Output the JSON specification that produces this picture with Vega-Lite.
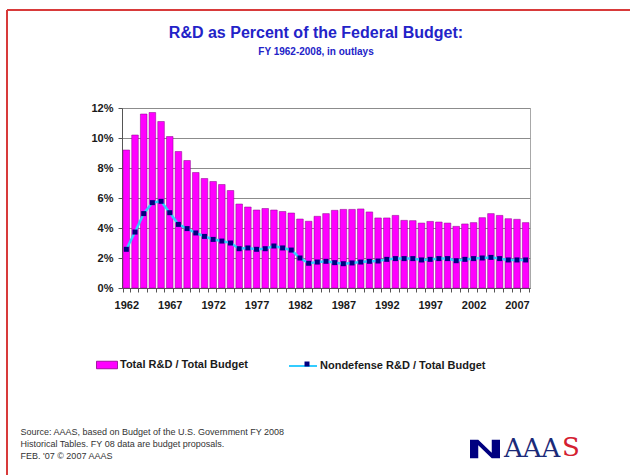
{
  "$schema": "https://vega.github.io/schema/vega-lite/v6.json",
  "width": 408,
  "height": 180,
  "autosize": {"type": "none"},
  "padding": {"left": 122, "top": 108, "right": 100, "bottom": 187},
  "background": "white",
  "title": {
    "text": "R&D as Percent of the Federal Budget:",
    "subtitle": "FY 1962-2008, in outlays",
    "anchor": "middle",
    "dx": -10,
    "offset": -48,
    "font": "Liberation Sans",
    "fontSize": 16,
    "fontWeight": "bold",
    "color": "#2323c8",
    "subtitleFont": "Liberation Sans",
    "subtitleFontSize": 10,
    "subtitleFontWeight": "bold",
    "subtitleColor": "#2323c8",
    "subtitlePadding": 6
  },
  "config": {
    "view": {"stroke": "#a8a8a8", "strokeWidth": 1},
    "axis": {"labelFont": "Liberation Sans", "labelFontSize": 11, "labelFontWeight": "bold", "labelColor": "#1a1a1a"},
    "axisY": {
      "title": null,
      "values": [0, 2, 4, 6, 8, 10, 12],
      "labelExpr": "datum.value + '%'",
      "labelOverlap": false,
      "tickSize": 4,
      "tickColor": "#555555",
      "domainColor": "#555555",
      "labelPadding": 5,
      "grid": true,
      "gridColor": "#8c8c8c",
      "gridWidth": 1
    }
  },
  "data": {
    "values": [
      {"year": 1962, "total": 9.2, "nondefense": 2.58},
      {"year": 1963, "total": 10.2, "nondefense": 3.73},
      {"year": 1964, "total": 11.6, "nondefense": 4.96},
      {"year": 1965, "total": 11.7, "nondefense": 5.69},
      {"year": 1966, "total": 11.1, "nondefense": 5.78},
      {"year": 1967, "total": 10.1, "nondefense": 5.02},
      {"year": 1968, "total": 9.1, "nondefense": 4.24},
      {"year": 1969, "total": 8.5, "nondefense": 3.96},
      {"year": 1970, "total": 7.7, "nondefense": 3.67},
      {"year": 1971, "total": 7.3, "nondefense": 3.44},
      {"year": 1972, "total": 7.1, "nondefense": 3.24},
      {"year": 1973, "total": 6.9, "nondefense": 3.13},
      {"year": 1974, "total": 6.5, "nondefense": 3.0},
      {"year": 1975, "total": 5.6, "nondefense": 2.62},
      {"year": 1976, "total": 5.4, "nondefense": 2.67},
      {"year": 1977, "total": 5.2, "nondefense": 2.58},
      {"year": 1978, "total": 5.3, "nondefense": 2.62},
      {"year": 1979, "total": 5.2, "nondefense": 2.8},
      {"year": 1980, "total": 5.1, "nondefense": 2.67},
      {"year": 1981, "total": 5.0, "nondefense": 2.53},
      {"year": 1982, "total": 4.6, "nondefense": 2.0},
      {"year": 1983, "total": 4.45, "nondefense": 1.65},
      {"year": 1984, "total": 4.78, "nondefense": 1.73},
      {"year": 1985, "total": 4.96, "nondefense": 1.78},
      {"year": 1986, "total": 5.18, "nondefense": 1.69},
      {"year": 1987, "total": 5.24, "nondefense": 1.62},
      {"year": 1988, "total": 5.24, "nondefense": 1.67},
      {"year": 1989, "total": 5.27, "nondefense": 1.73},
      {"year": 1990, "total": 5.07, "nondefense": 1.78},
      {"year": 1991, "total": 4.67, "nondefense": 1.8},
      {"year": 1992, "total": 4.67, "nondefense": 1.91},
      {"year": 1993, "total": 4.84, "nondefense": 1.96},
      {"year": 1994, "total": 4.51, "nondefense": 1.96},
      {"year": 1995, "total": 4.49, "nondefense": 1.96},
      {"year": 1996, "total": 4.33, "nondefense": 1.87},
      {"year": 1997, "total": 4.44, "nondefense": 1.91},
      {"year": 1998, "total": 4.4, "nondefense": 1.96},
      {"year": 1999, "total": 4.33, "nondefense": 1.96},
      {"year": 2000, "total": 4.11, "nondefense": 1.82},
      {"year": 2001, "total": 4.27, "nondefense": 1.91},
      {"year": 2002, "total": 4.36, "nondefense": 1.96},
      {"year": 2003, "total": 4.69, "nondefense": 2.0},
      {"year": 2004, "total": 4.96, "nondefense": 2.04},
      {"year": 2005, "total": 4.84, "nondefense": 1.96},
      {"year": 2006, "total": 4.62, "nondefense": 1.87},
      {"year": 2007, "total": 4.58, "nondefense": 1.87},
      {"year": 2008, "total": 4.36, "nondefense": 1.87}
    ]
  },
  "encoding": {
    "x": {
      "field": "year",
      "type": "ordinal",
      "scale": {"paddingInner": 0.24, "paddingOuter": 0.12},
      "axis": {
        "labelAngle": 0,
        "labelOverlap": false,
        "labelExpr": "(datum.value - 1962) % 5 == 0 ? datum.label : ''",
        "tickBand": "extent",
        "tickSize": 4,
        "tickColor": "#555555",
        "domainColor": "#555555",
        "labelPadding": 7,
        "grid": false,
        "title": [
          "Source: AAAS, based on Budget of the U.S. Government FY 2008",
          "Historical Tables. FY 08 data are budget proposals.",
          "FEB. '07 © 2007 AAAS"
        ],
        "titleFont": "Liberation Sans",
        "titleFontSize": 9,
        "titleFontWeight": "normal",
        "titleColor": "#333333",
        "titleAnchor": "start",
        "titleAlign": "left",
        "titleBaseline": "top",
        "titleLineHeight": 12,
        "titleX": -102,
        "titleY": 139
      }
    }
  },
  "layer": [
    {
      "mark": {"type": "bar", "stroke": "#8b008b", "strokeWidth": 0.5},
      "encoding": {
        "y": {"field": "total", "type": "quantitative", "scale": {"domain": [0, 12]}},
        "fill": {
          "datum": "Total R&D / Total Budget",
          "scale": {"range": ["#ff00ff"]},
          "legend": {
            "title": null,
            "orient": "none",
            "legendX": -26,
            "legendY": 246,
            "padding": 0,
            "symbolType": "M-1,-0.36H1V0.36H-1Z",
            "symbolSize": 441,
            "symbolFillColor": "#ff00ff",
            "symbolStrokeColor": "#8b008b",
            "symbolStrokeWidth": 0.8,
            "labelOffset": 2,
            "labelLimit": 300,
            "labelFont": "Liberation Sans",
            "labelFontSize": 11,
            "labelFontWeight": "bold",
            "labelColor": "#1a1a1a"
          }
        }
      }
    },
    {
      "mark": {"type": "line", "strokeWidth": 2.5},
      "encoding": {
        "y": {"field": "nondefense", "type": "quantitative"},
        "stroke": {
          "datum": "Nondefense R&D / Total Budget",
          "scale": {"range": ["#33ccff"]},
          "legend": {
            "title": null,
            "orient": "none",
            "legendX": 166,
            "legendY": 243,
            "padding": 0,
            "symbolType": "M-1,0H1",
            "symbolSize": 784,
            "symbolStrokeColor": "#33ccff",
            "symbolStrokeWidth": 2,
            "labelOffset": 2,
            "labelLimit": 300,
            "labelFont": "Liberation Sans",
            "labelFontSize": 11,
            "labelFontWeight": "bold",
            "labelColor": "#1a1a1a"
          }
        },
        "strokeDash": {
          "datum": "frame",
          "scale": {"range": [[1, 0]]},
          "legend": {
            "title": null,
            "orient": "none",
            "legendX": -116,
            "legendY": -99,
            "padding": 0,
            "symbolType": "M-1,-1H1V1H-1Z",
            "symbolSize": 409600,
            "symbolFillColor": "transparent",
            "symbolStrokeColor": "#d83a3a",
            "symbolStrokeWidth": 2,
            "symbolDash": [1, 0],
            "labelExpr": "''"
          }
        }
      }
    },
    {
      "mark": {"type": "point", "filled": true, "shape": "square", "color": "#000080"},
      "encoding": {
        "y": {"field": "nondefense", "type": "quantitative"},
        "size": {
          "datum": "dot",
          "scale": {"range": [25, 25]},
          "legend": {
            "title": null,
            "orient": "none",
            "legendX": 180,
            "legendY": 251,
            "padding": 0,
            "symbolType": "square",
            "symbolFillColor": "#000080",
            "symbolStrokeWidth": 0,
            "symbolOpacity": 1,
            "labelExpr": "''"
          }
        },
        "opacity": {
          "datum": "AAA",
          "scale": {"range": [1]},
          "legend": {
            "title": "S",
            "titleOrient": "right",
            "titleFont": "DejaVu Serif",
            "titleFontSize": 26,
            "titleFontWeight": "normal",
            "titleColor": "#d42030",
            "titlePadding": 2,
            "orient": "none",
            "legendX": 348,
            "legendY": 326,
            "padding": 0,
            "symbolType": "M-1,0.62V-0.62H-0.45L0.45,0.25V-0.62H1V0.62H0.45L-0.45,-0.25V0.62Z",
            "symbolSize": 900,
            "symbolFillColor": "#1b2a78",
            "symbolStrokeWidth": 0,
            "symbolOpacity": 1,
            "labelOffset": 4,
            "labelFont": "DejaVu Serif",
            "labelFontSize": 26,
            "labelColor": "#1b2a78"
          }
        }
      }
    }
  ]
}
